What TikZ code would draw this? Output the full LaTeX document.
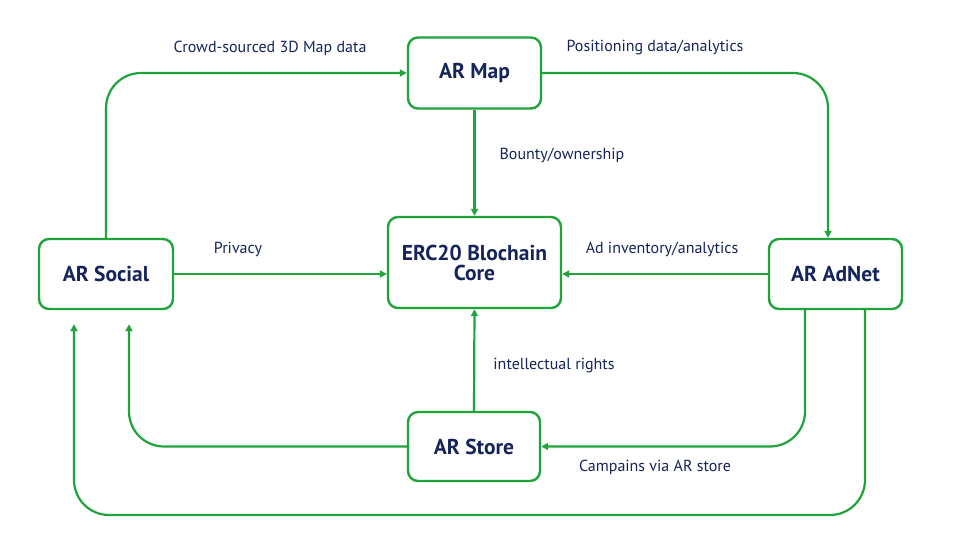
\documentclass[tikz,border=0pt]{standalone}
\usepackage{fontspec}
\setmainfont{PT Sans}
\usetikzlibrary{arrows.meta}
\definecolor{lgreen}{HTML}{1FA33A}
\definecolor{navy}{HTML}{15245A}
\tikzset{
  box/.style={draw=lgreen, line width=2.4pt, rounded corners=10pt, fill=white,
    inner sep=0pt, align=center, text=navy, font=\bfseries\fontsize{21.5}{21}\selectfont},
  conn/.style={draw=lgreen, line width=2.2pt, rounded corners=35pt,
    -{Triangle[length=7pt,width=7pt]}},
  lbl/.style={text=navy, font=\fontsize{16}{18}\selectfont, inner sep=0pt}
}
\begin{document}
\begin{tikzpicture}[x=1pt,y=-1pt]
\useasboundingbox (0,0) rectangle (959,553);
\node[box, minimum width=133pt, minimum height=71pt] (map) at (474.5,73) {AR Map};
\node[box, minimum width=173pt, minimum height=91pt] (erc) at (474.5,262.5) {ERC20 Blochain\\[-1pt]Core};
\node[box, minimum width=134pt, minimum height=70pt] (social) at (106,274) {AR Social};
\node[box, minimum width=133pt, minimum height=70pt] (adnet) at (835.5,274) {AR AdNet};
\node[box, minimum width=132pt, minimum height=69pt] (store) at (474,446.5) {AR Store};
\coordinate (bot) at (470,515);

\draw[conn] (social.north) |- (map.west);
\draw[conn] (map.east) -| ([xshift=-7.5pt]adnet.north);
\draw[conn] (map.south) -- (erc.north);
\draw[conn] (social.east) -- (social.east -| erc.west);
\draw[conn] (adnet.west) -- (adnet.west -| erc.east);
\draw[conn] (store.north) -- (erc.south);
\draw[conn] (store.west) -| ([xshift=23pt,yshift=-14pt]social.south);
\draw[conn] ([xshift=-30.5pt]adnet.south) |- (store.east);
\draw[conn] ([xshift=29.5pt]adnet.south) |- (bot) -| ([xshift=-32pt,yshift=-14pt]social.south);

\node[lbl] (l1) at (270,48) {Crowd-sourced 3D Map data};
\node[lbl] (l2) at (655,48) {Positioning data/analytics};
\node[lbl] (l3) at (562,155) {Bounty/ownership};
\node[lbl] (l4) at (238,249) {Privacy};
\node[lbl] (l5) at (662,249) {Ad inventory/analytics};
\node[lbl] (l6) at (554,366) {intellectual rights};
\node[lbl] (l7) at (655,467) {Campains via AR store};
\end{tikzpicture}
\end{document}
